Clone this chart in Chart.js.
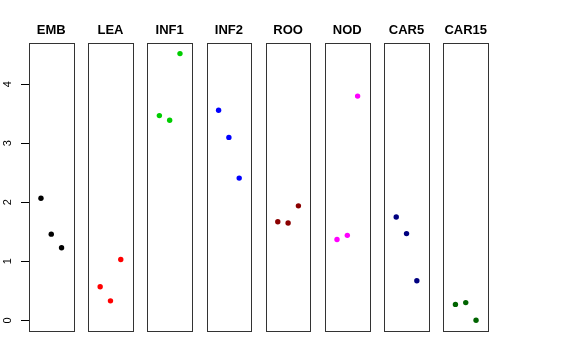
<!DOCTYPE html>
<html>
<head>
<meta charset="utf-8">
<script src="https://cdn.jsdelivr.net/npm/chart.js@4/dist/chart.umd.min.js"></script>
<style>
  html, body { margin: 0; padding: 0; background: #ffffff; }
  #wrap { width: 576px; height: 360px; }
</style>
</head>
<body>
<div id="wrap"><canvas id="c" width="576" height="360"></canvas></div>
<script>
// ---- data ----
const panels = ['EMB', 'LEA', 'INF1', 'INF2', 'ROO', 'NOD', 'CAR5', 'CAR15'];
const rep1 = [2.07, 0.57, 3.47, 3.56, 1.67, 1.37, 1.75, 0.27];
const rep2 = [1.46, 0.33, 3.39, 3.10, 1.65, 1.44, 1.47, 0.30];
const rep3 = [1.23, 1.03, 4.52, 2.41, 1.94, 3.80, 0.67, 0.00];
const panelColors = ['#000000', '#FF0000', '#00CD00', '#0000FF', '#8B0000', '#FF00FF', '#000080', '#006400'];
const yTickValues = [0, 1, 2, 3, 4];

// panel geometry in x-scale units: each panel spans [-0.16, 4.16] around positions 1,2,3
const PANEL_STEP = 5.746;
const PANEL_LO = -0.16;
const PANEL_HI = 4.16;

const datasets = panels.map((name, k) => ({
  label: name,
  data: [rep1[k], rep2[k], rep3[k]].map((v, j) => ({ x: k * PANEL_STEP + (j + 1), y: v })),
  backgroundColor: panelColors[k],
  borderColor: panelColors[k],
  pointRadius: 2.7,
  pointBorderWidth: 0,
  showLine: false
}));

const panelPlugin = {
  id: 'panels',
  afterDatasetsDraw(chart) {
    const ctx = chart.ctx;
    const xs = chart.scales.x, ys = chart.scales.y;
    const top = ys.getPixelForValue(ys.max);
    const bottom = ys.getPixelForValue(ys.min);
    ctx.save();
    ctx.strokeStyle = '#333333';
    ctx.lineWidth = 1;
    panels.forEach((name, k) => {
      const l = Math.round(xs.getPixelForValue(k * PANEL_STEP + PANEL_LO)) + 0.5;
      const r = Math.round(xs.getPixelForValue(k * PANEL_STEP + PANEL_HI)) + 0.5;
      ctx.strokeRect(l, Math.round(top) + 0.5, r - l, Math.round(bottom) - Math.round(top));
    });
    ctx.fillStyle = '#000000';
    ctx.font = 'bold 13px "Liberation Sans", Arial, sans-serif';
    ctx.textAlign = 'center';
    ctx.textBaseline = 'alphabetic';
    panels.forEach((name, k) => {
      const cx = xs.getPixelForValue(k * PANEL_STEP + (PANEL_LO + PANEL_HI) / 2);
      ctx.fillText(name, cx, 34);
    });
    ctx.restore();
  }
};

new Chart(document.getElementById('c'), {
  type: 'scatter',
  data: { datasets },
  options: {
    responsive: false,
    animation: false,
    devicePixelRatio: 1,
    layout: { padding: { left: 0, right: 88, top: 43, bottom: 29 } },
    plugins: { legend: { display: false }, tooltip: { enabled: false }, title: { display: false } },
    scales: {
      x: {
        type: 'linear',
        display: false,
        min: PANEL_LO,
        max: 7 * PANEL_STEP + PANEL_HI
      },
      y: {
        type: 'linear',
        min: -0.181,
        max: 4.70,
        border: { display: false },
        grid: { drawOnChartArea: false, drawTicks: true, tickLength: 8, color: '#000000', lineWidth: 1 },
        afterBuildTicks(scale) { scale.ticks = yTickValues.map(v => ({ value: v })); },
        afterFit(scale) { scale.width = 29; },
        ticks: {
          includeBounds: false,
          stepSize: 1,
          minRotation: 90,
          maxRotation: 90,
          crossAlign: 'center',
          padding: 10,
          color: '#000000',
          font: { family: '"Liberation Sans", Arial, sans-serif', size: 11 },
          callback: (v) => String(v)
        }
      }
    }
  },
  plugins: [panelPlugin]
});
</script>
</body>
</html>
